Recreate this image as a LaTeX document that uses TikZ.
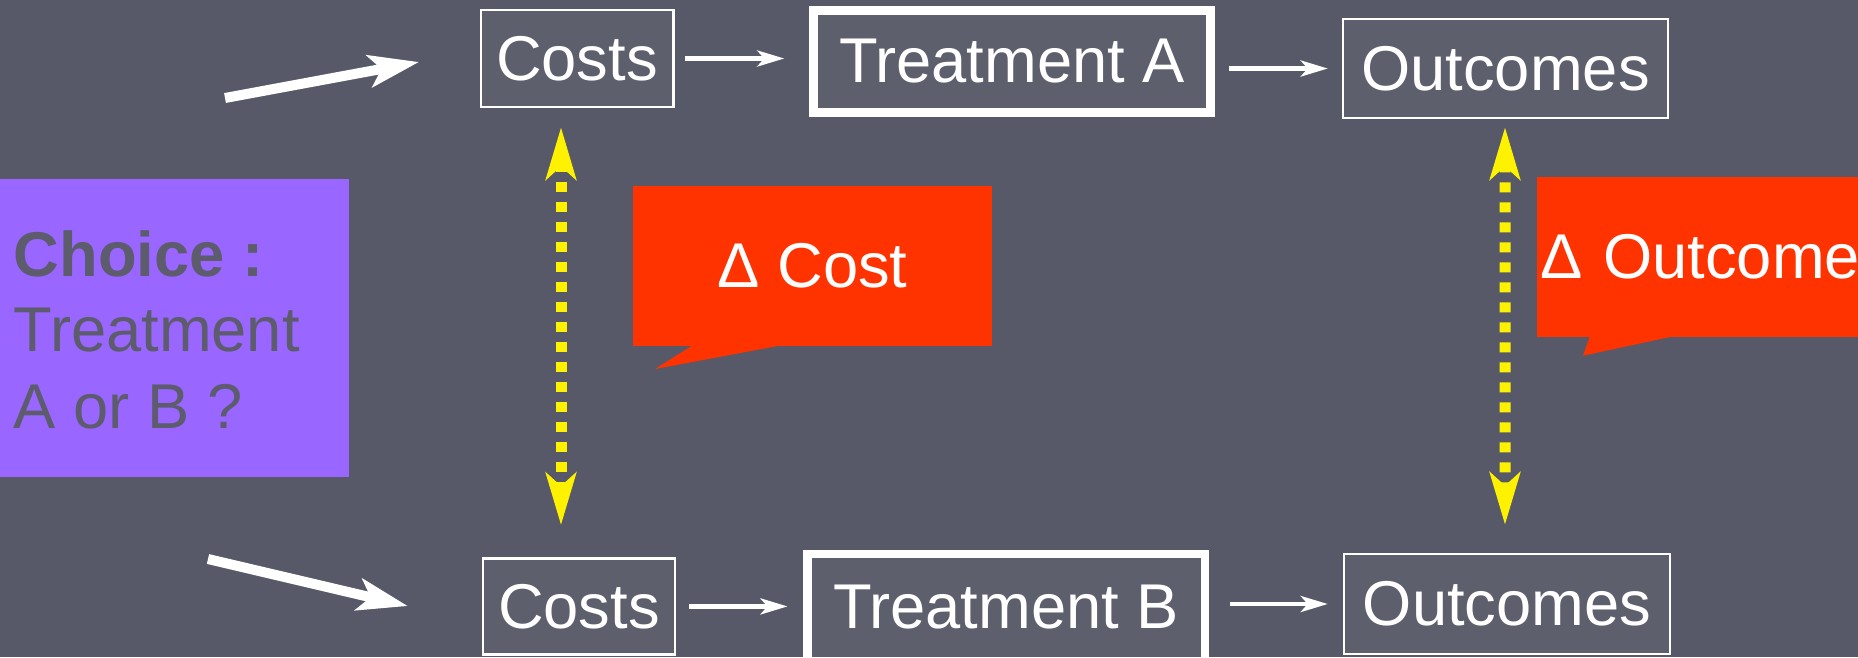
\documentclass[tikz,border=0pt]{standalone}
\usepackage{fontspec}
\setmainfont{Liberation Sans}
\usetikzlibrary{arrows.meta}
\definecolor{slate}{RGB}{87,89,104}
\definecolor{boxgray}{RGB}{94,95,109}
\definecolor{choicepurple}{HTML}{9966FF}
\definecolor{choicetext}{RGB}{92,92,108}
\definecolor{calloutred}{HTML}{FF3300}
\begin{document}
\begin{tikzpicture}[x=1cm,y=1cm,font=\fontsize{18}{21.6}\selectfont,
  thinbox/.style={draw=white,line width=.025cm,fill=boxgray,text=white,inner sep=0pt},
  thickbox/.style={draw=white,line width=.085cm,fill=boxgray,text=white,inner sep=0pt},
  flow/.style={white,line width=.045cm,-{Stealth[length=.27cm,width=.16cm,inset=.07cm]}},
  pick/.style={white,line width=.10cm,-{Stealth[length=.50cm,width=.32cm,inset=.12cm]}},
  delta/.style={yellow,line width=.11cm,dash pattern=on .1cm off .1cm,
    {Stealth[length=.52cm,width=.30cm,inset=.13cm]}-{Stealth[length=.52cm,width=.30cm,inset=.13cm]}},
  balloon/.style={fill=calloutred,text=white,inner sep=0pt,outer sep=0pt},
  chtext/.style={anchor=base west,inner sep=0pt,text=choicetext}]
  \useasboundingbox (0,0) rectangle (18.58,-6.57);
  \fill[slate] (0,0) rectangle (18.58,-6.57);

  % the choice
  \node[fill=choicepurple,minimum width=3.49cm,minimum height=2.98cm,inner sep=0pt] (choice) at (1.745,-3.28) {};
  \node[chtext] (choiceA) at (.13,-2.76) {\bfseries Choice :};
  \node[chtext] (choiceB) at (.13,-3.517) {Treatment};
  \node[chtext] (choiceC) at (.13,-4.28) {A or B ?};

  % two arms
  \node[thinbox,minimum width=1.925cm,minimum height=.97cm] (costsA) at (5.77,-.585) {Costs};
  \node[thickbox,minimum width=3.97cm,minimum height=1.02cm] (treatA) at (10.12,-.615) {Treatment A};
  \node[thinbox,minimum width=3.25cm,minimum height=.99cm] (outA) at (15.055,-.685) {Outcomes};
  \node[thinbox,minimum width=1.92cm,minimum height=.96cm] (costsB) at (5.79,-6.064) {Costs};
  \node[thickbox,minimum width=3.975cm,minimum height=1.07cm] (treatB) at (10.06,-6.075) {Treatment B};
  \node[thinbox,minimum width=3.26cm,minimum height=1cm] (outB) at (15.07,-6.04) {Outcomes};

  \draw[flow,shorten <=.105cm,shorten >=.25cm] (costsA.east) -- (costsA.east -| treatA.west);
  \draw[flow,shorten <=.14cm,shorten >=.14cm] (treatA.east |- outA.west) -- (outA.west);
  \draw[flow,shorten <=.13cm,shorten >=.155cm] (costsB.east) -- (costsB.east -| treatB.west);
  \draw[flow,shorten <=.21cm,shorten >=.15cm] (treatB.east |- outB.west) -- (outB.west);

  \coordinate (pickA) at (2.25,-.98);
  \coordinate (pickB) at (2.08,-5.59);
  \draw[pick] (pickA) -- ([xshift=-.605cm,yshift=-.035cm]costsA.west);
  \draw[pick] (pickB) -- ([xshift=-.74cm,yshift=.004cm]costsB.west);

  % differences
  \draw[delta] ([xshift=-.16cm,yshift=-.19cm]costsA.south) -- ([xshift=-.18cm,yshift=.32cm]costsB.north);
  \draw[delta] ([xshift=-.005cm,yshift=-.08cm]outA.south) -- ([xshift=-.02cm,yshift=.28cm]outB.north);

  \node[balloon,minimum width=3.59cm,minimum height=1.6cm] (dcost) at (8.125,-2.66) {Δ Cost};
  \fill[calloutred] ([xshift=.6cm,yshift=.01cm]dcost.south west) -- ([xshift=.22cm,yshift=-.23cm]dcost.south west)
    -- ([xshift=1.5cm,yshift=.01cm]dcost.south west) -- cycle;
  \node[balloon,anchor=north west,minimum height=1.6cm,text width=3.55cm,align=left,inner xsep=.03cm] (dout) at (15.37,-1.767) {Δ Outcome};
  \fill[calloutred] ([xshift=.53cm,yshift=.01cm]dout.south west) -- ([xshift=.46cm,yshift=-.19cm]dout.south west)
    -- ([xshift=1.39cm,yshift=.01cm]dout.south west) -- cycle;
\end{tikzpicture}
\end{document}
